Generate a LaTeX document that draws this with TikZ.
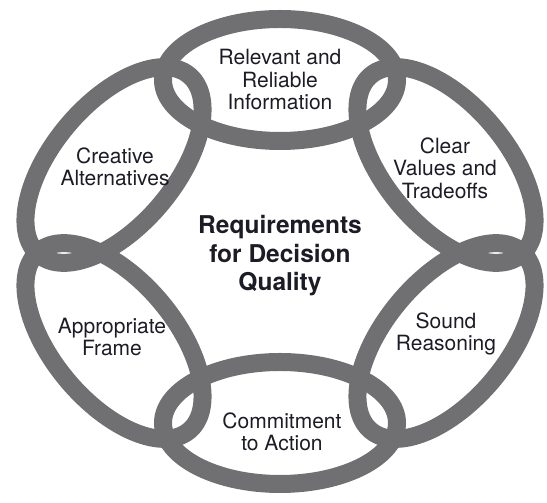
\documentclass[tikz,border=0pt]{standalone}
\usepackage{fontspec}
\setmainfont{TeX Gyre Heros}
\usepackage{tikz}
\usetikzlibrary{positioning}
\definecolor{ringgray}{RGB}{112,112,115}
\definecolor{inkdark}{RGB}{28,28,38}

\begin{document}
\begin{tikzpicture}[
  x=1pt, y=1pt,
  ring/.style={draw=ringgray, line width=18pt},
  label/.style={align=center, text=inkdark, font=\fontsize{21}{22.5}\selectfont},
  hub/.style={align=center, text=inkdark, font=\fontsize{24.5}{28.5}\selectfont\bfseries}
]
\useasboundingbox (0,0) rectangle (547,503);
% the six rings
\foreach \cx/\cy/\ang in {280/423/0, 280/80/0, 114/338/50, 446/338/-50, 114/162/-50, 446/162/50}
  \draw[ring, rotate around={\ang:(\cx,\cy)}] (\cx,\cy) ellipse [x radius=117pt, y radius=61pt];
% labels
\node[label] (info) at (280,423) {Relevant and\\Reliable\\Information};
\node[label] (values) at (445,335) {Clear\\Values and\\Tradeoffs};
\node[label] (alts) at (115,336) {Creative\\Alternatives};
\node[label] (frame) at (112,166) {Appropriate\\Frame};
\node[label] (reason) at (446,169) {Sound\\Reasoning};
\node[label] (action) at (282,71) {Commitment\\to Action};
\node[hub] (dq) at (280,247) {Requirements\\for Decision\\Quality};
\end{tikzpicture}
\end{document}
